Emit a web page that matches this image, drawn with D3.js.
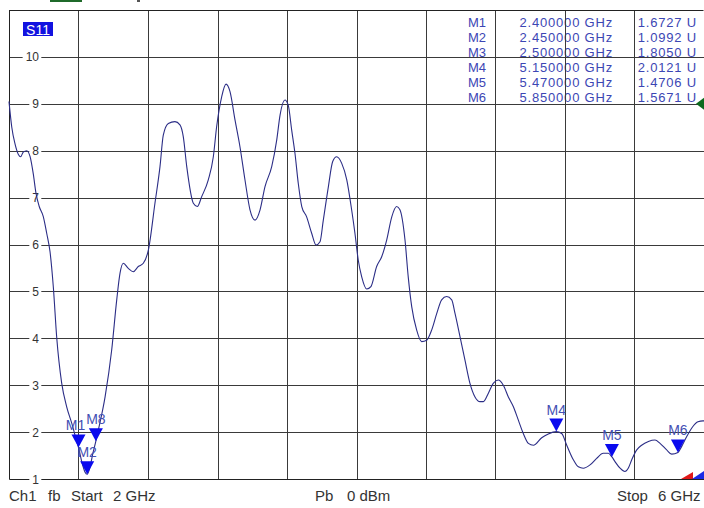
<!DOCTYPE html>
<html>
<head>
<meta charset="utf-8">
<script src="https://cdn.jsdelivr.net/npm/d3@7"></script>
<style>
  body { margin: 0; background: #fff; }
  text { font-family: "Liberation Sans", Arial, sans-serif; }
</style>
</head>
<body>
<svg id="chart" width="704" height="508"></svg>
<script>
// trace (GHz, U)
var freqs = [2.000, 2.016, 2.035, 2.054, 2.067, 2.082, 2.102, 2.121, 2.140, 2.155, 2.174, 2.197, 2.217, 2.236, 2.255,
  2.275, 2.303, 2.332, 2.361, 2.390, 2.400, 2.420, 2.437, 2.450, 2.466, 2.483, 2.500, 2.514, 2.553, 2.591, 2.620,
  2.639, 2.658, 2.687, 2.715, 2.744, 2.773, 2.802, 2.840, 2.869, 2.888, 2.917, 2.955, 2.984, 3.003, 3.023, 3.061,
  3.084, 3.109, 3.147, 3.176, 3.195, 3.224, 3.249, 3.272, 3.301, 3.329, 3.358, 3.387, 3.416, 3.445, 3.473, 3.512,
  3.541, 3.560, 3.588, 3.607, 3.627, 3.646, 3.665, 3.685, 3.713, 3.742, 3.767, 3.790, 3.809, 3.838, 3.863, 3.886,
  3.915, 3.944, 3.972, 3.991, 4.010, 4.030, 4.059, 4.083, 4.116, 4.145, 4.174, 4.203, 4.231, 4.250, 4.279, 4.298,
  4.318, 4.346, 4.375, 4.404, 4.433, 4.462, 4.490, 4.519, 4.548, 4.567, 4.596, 4.624, 4.653, 4.682, 4.711, 4.730,
  4.759, 4.787, 4.816, 4.845, 4.874, 4.903, 4.931, 4.960, 4.989, 5.018, 5.066, 5.104, 5.150, 5.181, 5.210, 5.248,
  5.277, 5.305, 5.344, 5.382, 5.420, 5.449, 5.470, 5.488, 5.517, 5.545, 5.564, 5.584, 5.613, 5.641, 5.680, 5.718,
  5.747, 5.785, 5.814, 5.850, 5.871, 5.900, 5.936, 5.965, 5.994, 6.000];
var values = [9.05, 8.50, 8.14, 7.92, 7.87, 7.97, 8.00, 7.88, 7.50, 7.10, 6.81, 6.60, 6.24, 5.85, 5.10,
  4.00, 3.05, 2.54, 2.19, 1.80, 1.67, 1.35, 1.15, 1.10, 1.25, 1.55, 1.805, 2.04, 2.75, 3.75, 4.82,
  5.39, 5.60, 5.49, 5.42, 5.53, 5.60, 5.88, 6.88, 7.66, 8.33, 8.58, 8.62, 8.55, 8.30, 7.66, 6.88,
  6.81, 7.02, 7.38, 7.87, 8.51, 9.15, 9.42, 9.26, 8.65, 8.09, 7.38, 6.74, 6.52, 6.74, 7.23, 7.66,
  8.23, 8.76, 9.08, 8.97, 8.44, 7.94, 7.30, 6.81, 6.59, 6.24, 5.99, 6.06, 6.52, 7.23, 7.77, 7.87,
  7.73, 7.38, 6.74, 6.24, 5.67, 5.31, 5.05, 5.10, 5.53, 5.74, 6.10, 6.59, 6.81, 6.74, 6.10, 5.30,
  4.67, 4.18, 3.93, 3.96, 4.18, 4.53, 4.82, 4.89, 4.82, 4.53, 4.03, 3.54, 3.04, 2.75, 2.65, 2.65,
  2.83, 3.04, 3.11, 3.00, 2.75, 2.54, 2.26, 1.97, 1.76, 1.72, 1.88, 1.96, 2.01, 1.97, 1.72, 1.41,
  1.26, 1.23, 1.30, 1.44, 1.55, 1.55, 1.47, 1.37, 1.23, 1.16, 1.23, 1.41, 1.62, 1.72, 1.80, 1.83,
  1.76, 1.62, 1.53, 1.567, 1.69, 1.90, 2.12, 2.22, 2.24, 2.24];

var markerNames = ["M1", "M2", "M3", "M4", "M5", "M6"];
var markerFreqs = [2.40, 2.45, 2.50, 5.15, 5.47, 5.85];
var markerValues = [1.6727, 1.0992, 1.8050, 2.0121, 1.4706, 1.5671];
var markerShown = ["M1", "M2", "M8", "M4", "M5", "M6"];   // labels as drawn on the trace

var yTicks = [1, 2, 3, 4, 5, 6, 7, 8, 9, 10];
var xGrid = [2.4, 2.8, 3.2, 3.6, 4.0, 4.4, 4.8, 5.2, 5.6];
var refLevel = 9;

var svg = d3.select("#chart");
var x = d3.scaleLinear().domain([2, 6]).range([9, 704]);
var y = d3.scaleLinear().domain([1, 11]).range([479, 10]);

var gridColor = "#3a3a3a";
var markColor = "#0a0aee";
var textBlue = "#3c46b4";

// marker table (drawn first, the grid runs over it)
var table = svg.append("g").attr("font-size", 13).attr("fill", textBlue)
    .attr("text-anchor", "end").attr("letter-spacing", 0.8);
markerNames.forEach(function(m, i) {
    var by = 27 + i * 15;
    table.append("text").attr("x", 486).attr("y", by).attr("letter-spacing", 0).text(m);
    table.append("text").attr("x", 613).attr("y", by).text(markerFreqs[i].toFixed(6) + " GHz");
    table.append("text").attr("x", 697).attr("y", by).text(markerValues[i].toFixed(4) + "  U");
});

// grid
svg.append("g").selectAll("line.v").data(xGrid).join("line")
    .attr("x1", function(d) { return Math.round(x(d)) + 0.5; })
    .attr("x2", function(d) { return Math.round(x(d)) + 0.5; })
    .attr("y1", y(11)).attr("y2", y(1))
    .attr("stroke", gridColor).attr("stroke-width", 1);

svg.append("g").selectAll("line.h").data(yTicks.slice(1)).join("line")
    .attr("x1", 9).attr("x2", 704)
    .attr("y1", function(d) { return Math.round(y(d)) + 0.5; })
    .attr("y2", function(d) { return Math.round(y(d)) + 0.5; })
    .attr("stroke", gridColor).attr("stroke-width", 1);

// frame
svg.append("path")
    .attr("d", "M" + (x(2) + 0.5) + "," + Math.round(y(11)) + ".5 H703.5 M" + (x(2) + 0.5) + "," + Math.round(y(11)) + " V" + (Math.round(y(1)) + 0.5) + " H704")
    .attr("fill", "none").attr("stroke", "#222").attr("stroke-width", 1);

// y tick labels, sitting on the grid lines
var tl = svg.append("g");
yTicks.forEach(function(v) {
    var t = tl.append("text").attr("x", 39).attr("y", y(v) + 4.5)
        .attr("text-anchor", "end").attr("font-size", 12).attr("fill", "#333").text(v);
    var b = t.node().getBBox();
    tl.insert("rect", "text").attr("x", b.x - 3).attr("y", b.y).attr("width", b.width + 5)
        .attr("height", b.height).attr("fill", "#fff");
});

// trace
var line = d3.line()
    .x(function(d, i) { return x(freqs[i]); })
    .y(function(d) { return y(d); })
    .curve(d3.curveMonotoneX);
svg.append("path").datum(values)
    .attr("d", line)
    .attr("fill", "none").attr("stroke", "#2b2d86").attr("stroke-width", 1.1);

// markers
var mk = svg.append("g");
markerNames.forEach(function(m, i) {
    var mx = x(markerFreqs[i]), my = y(markerValues[i]);
    mk.append("text").attr("x", mx - (i == 0 ? 3 : 0)).attr("y", my - 17)
        .attr("text-anchor", "middle").attr("font-size", 14).attr("fill", "#4450b4").text(markerShown[i]);
    mk.append("path")
        .attr("d", "M" + (mx - 7) + "," + (my - 13) + " L" + (mx + 7) + "," + (my - 13) + " L" + mx + "," + my + " Z")
        .attr("fill", markColor);
});

// reference level arrow on the right
svg.append("path")
    .attr("d", "M704," + (y(refLevel) - 6) + " L704," + (y(refLevel) + 6) + " L696," + y(refLevel) + " Z")
    .attr("fill", "#0c6a1e");

// small corner flags
svg.append("path").attr("d", "M681,479 L693,479 L693,472 Z").attr("fill", "#e01818");
svg.append("path").attr("d", "M692,479 L704,479 L704,471 Z").attr("fill", "#1a2ae6");

// S11 trace tag
svg.append("rect").attr("x", 23).attr("y", 22).attr("width", 30).attr("height", 14).attr("fill", "#1212e0");
svg.append("text").attr("x", 38).attr("y", 34.5).attr("text-anchor", "middle")
    .attr("font-size", 14).attr("fill", "#fff").text("S11");

// bits of the top bar
svg.append("rect").attr("x", 50).attr("y", 0).attr("width", 32).attr("height", 2).attr("fill", "#1f6a2a");
svg.append("rect").attr("x", 137).attr("y", 0).attr("width", 3).attr("height", 2).attr("fill", "#555");

// status line
var statusWords = ["Ch1", "fb", "Start", "2 GHz", "Pb", "0 dBm", "Stop", "6 GHz"];
var statusX = [9, 48, 71, 113, 315, 347, 617, 658];
statusWords.forEach(function(w, i) {
    svg.append("text").attr("x", statusX[i]).attr("y", 501)
        .attr("font-size", 15).attr("fill", "#333").text(w);
});
</script>
</body>
</html>
